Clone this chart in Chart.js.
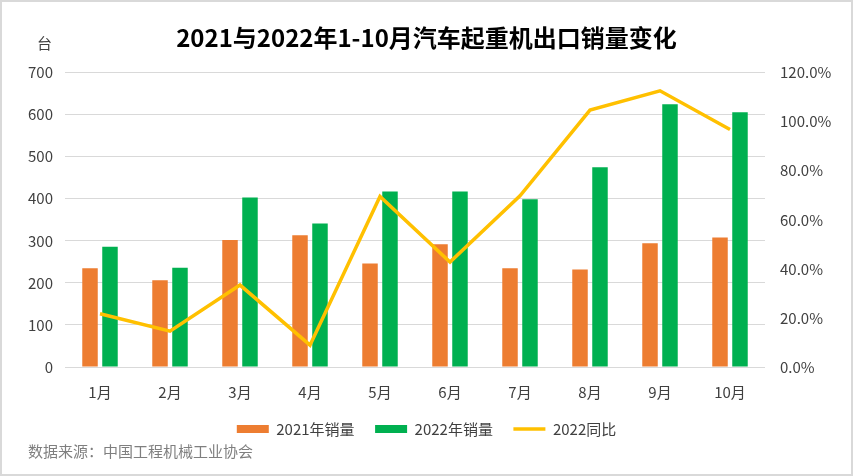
<!DOCTYPE html>
<html>
<head>
<meta charset="utf-8">
<script src="https://cdn.jsdelivr.net/npm/chart.js@4/dist/chart.umd.min.js"></script>
<style>
  html, body { margin: 0; padding: 0; background: #fff; }
  #wrap { position: relative; width: 853px; height: 476px; overflow: hidden; font-family: "Noto Sans CJK SC", "Noto Sans", sans-serif; }
  #frame { position: absolute; left: 0; top: 0; width: 853px; height: 476px; box-sizing: border-box; border: 2px solid #d9d9d9; pointer-events: none; }
  #unit { position: absolute; left: 37px; top: 33px; font-size: 15px; color: #404040; line-height: 20px; }
  #source { position: absolute; left: 28px; top: 441px; font-size: 15px; color: #7f7f7f; line-height: 20px; }
</style>
</head>
<body>
<div id="wrap">
  <canvas id="myChart" width="853" height="476"></canvas>
  <div id="unit">台</div>
  <div id="source">数据来源：中国工程机械工业协会</div>
  <div id="frame"></div>
</div>
<script>
// months on the x axis
const months = ['1月', '2月', '3月', '4月', '5月', '6月', '7月', '8月', '9月', '10月'];
// export sales, units
const sales2021 = [235, 206, 302, 313, 246, 292, 235, 232, 294, 308];
const sales2022 = [286, 236, 403, 341, 417, 417, 399, 475, 625, 606];
// year on year growth, percent
const yoy2022 = [21.7, 14.6, 33.4, 8.9, 69.5, 42.8, 69.8, 104.7, 112.6, 96.8];

const FONT = '"Noto Sans CJK SC", "Noto Sans", sans-serif';

const canvas = document.getElementById('myChart');
new Chart(canvas, {
    type: 'bar',
    data: {
        labels: months,
        datasets: [{
            label: '2021年销量',
            data: sales2021,
            backgroundColor: '#ED7D31',
            borderWidth: 0,
            categoryPercentage: 0.571,
            barPercentage: 0.775,
            yAxisID: 'y',
            order: 1
        }, {
            label: '2022年销量',
            data: sales2022,
            backgroundColor: '#00B050',
            borderWidth: 0,
            categoryPercentage: 0.571,
            barPercentage: 0.775,
            yAxisID: 'y',
            order: 1
        }, {
            type: 'line',
            label: '2022同比',
            data: yoy2022,
            borderColor: '#FFC000',
            backgroundColor: '#FFC000',
            borderWidth: 3.5,
            tension: 0,
            pointRadius: 0,
            pointStyle: 'line',
            yAxisID: 'y1',
            order: 0
        }]
    },
    options: {
        responsive: false,
        animation: false,
        layout: { padding: { left: 0, right: 0, top: 0, bottom: 29.5 } },
        scales: {
            x: {
                grid: { display: false, drawTicks: false },
                border: { display: false },
                ticks: { padding: 16, color: '#404040', font: { family: FONT, size: 15 } },
                // labels are clipped to this box, 34 still holds them
                afterFit: function (scale) { scale.height = 34; }
            },
            y: {
                position: 'left',
                min: 0,
                max: 700,
                grid: { color: '#d9d9d9', lineWidth: 1, drawTicks: false },
                border: { display: false },
                ticks: { stepSize: 100, padding: 12, color: '#404040', font: { family: FONT, size: 15 } },
                afterFit: function (scale) { scale.width = 65; }
            },
            y1: {
                position: 'right',
                min: 0,
                max: 120,
                grid: { display: false, drawTicks: false },
                border: { display: false },
                ticks: {
                    stepSize: 20,
                    padding: 15,
                    color: '#404040',
                    font: { family: FONT, size: 15 },
                    callback: function (v) { return v.toFixed(1) + '%'; }
                },
                afterFit: function (scale) { scale.width = 88; }
            }
        },
        plugins: {
            title: {
                display: true,
                text: '2021与2022年1-10月汽车起重机出口销量变化',
                color: '#000',
                font: { family: FONT, size: 24, weight: 'bold' },
                padding: { top: 23.6, bottom: 20.2 }
            },
            legend: {
                position: 'bottom',
                labels: {
                    usePointStyle: true,
                    pointStyleWidth: 32,
                    boxHeight: 8,
                    padding: 20.5,
                    color: '#404040',
                    font: { family: FONT, size: 15 },
                    sort: function (a, b) { return a.datasetIndex - b.datasetIndex; },
                    generateLabels: function (chart) {
                        const items = Chart.defaults.plugins.legend.labels.generateLabels(chart);
                        items.forEach(function (it) {
                            if (it.datasetIndex !== 2) { it.pointStyle = 'rect'; it.lineWidth = 0; }
                            else { it.pointStyle = 'line'; it.lineWidth = 3.5; }
                        });
                        return items;
                    }
                }
            },
            tooltip: { enabled: false }
        }
    }
});
</script>
</body>
</html>
